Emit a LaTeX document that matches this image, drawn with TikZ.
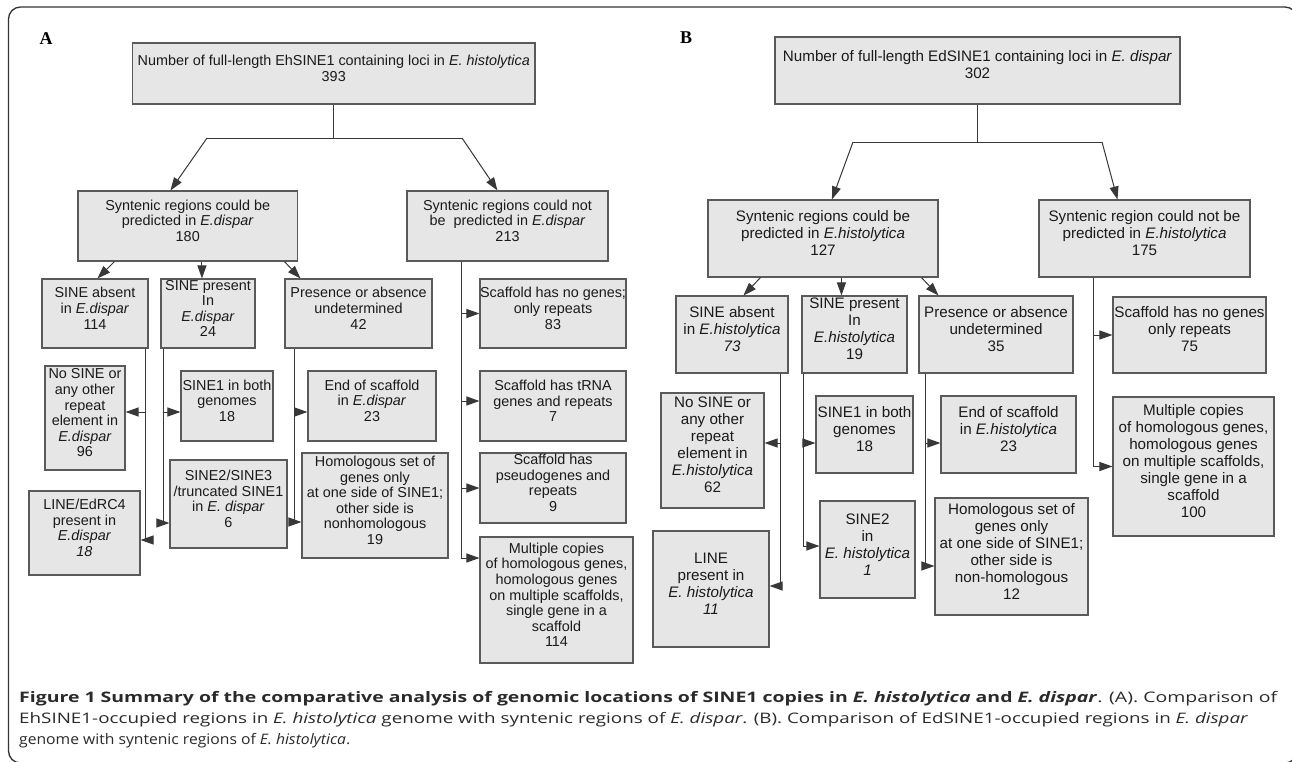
\documentclass[tikz,border=0pt]{standalone}
\usepackage{fontspec}
\usepackage{graphicx}
\usetikzlibrary{arrows.meta,fit}
\setmainfont{Liberation Sans}
\newfontfamily\capf{Open Sans}
\newfontfamily\serf{Liberation Serif}
\definecolor{boxfill}{HTML}{E6E6E6}
\definecolor{boxline}{HTML}{5A5A5A}
\definecolor{conn}{HTML}{383838}
\definecolor{txt}{HTML}{1A1A1A}
\definecolor{captxt}{HTML}{2A2A2A}
\begin{document}
\begin{tikzpicture}[x=1pt,y=-1pt,
  box/.style={draw=boxline,fill=boxfill,line width=1.1pt,inner sep=0pt,align=center,text=txt},
  fa/.style={font=\fontsize{14.4}{15.6}\selectfont},
  fb/.style={font=\fontsize{15.2}{17}\selectfont},
  ln/.style={draw=conn,line width=1pt},
  arr/.style={ln,-{Triangle[length=13pt,width=9pt]}},
  plabel/.style={font=\serf\bfseries\fontsize{18}{18}\selectfont,inner sep=0pt},
  capline/.style={anchor=base west,inner sep=0pt,text=captxt}]
\useasboundingbox (0,0) rectangle (1292,761);
\fill[white] (0,0) rectangle (1292,761);
\draw[line width=1.3pt,draw=black!80,rounded corners=12pt] (8.5,7) rectangle (1297,763);

% ---------------- Panel A ----------------
\node[plabel] (labA) at (46,39) {A};
\node[box,fa,fit={(132.5,43) (535,104)}] (aTop) {Number of full-length EhSINE1 containing loci in \textit{E. histolytica}\\393};
\node[box,fa,fit={(78,191) (297.5,261)}] (a180) {Syntenic regions could be\\ predicted in \textit{E.dispar}\\180};
\node[box,fa,fit={(407,191) (608,261)}] (a213) {Syntenic regions could not\\be \ predicted in \textit{E.dispar}\\213};
\node[box,fa,fit={(42,279) (148,348)}] (aAbs) {SINE absent\\in \textit{E.dispar}\\114};
\node[box,fa,fit={(161,279) (255,348)}] (aPres) {SINE present\\In\\\textit{E.dispar}\\24};
\node[box,fa,fit={(285,279) (432,348)}] (aUnd) {Presence or absence\\undetermined\\42};
\node[box,fa,fit={(480,279) (626,348)}] (aNoG) {Scaffold has no genes;\\only repeats\\83};
\node[box,fa,fit={(45,366) (125,470)}] (aNoS) {No SINE or\\any other\\repeat\\element in\\\textit{E.dispar}\\96};
\node[box,fa,fit={(29,491) (140,575)}] (aLine) {LINE/EdRC4\\present in\\\textit{E.dispar}\\\textit{18}};
\node[box,fa,fit={(181,371) (273,441)}] (aBoth) {SINE1 in both\\genomes\\18};
\node[box,fa,fit={(170,460) (287,548)}] (aS23) {SINE2/SINE3\\/truncated SINE1\\in \textit{E. dispar}\\6};
\node[box,fa,fit={(308,371) (436,441)}] (aEnd) {End of scaffold\\in \textit{E.dispar}\\23};
\node[box,fa,fit={(302,453) (448,558)}] (aHom) {Homologous set of\\genes only\\at one side of SINE1;\\other side is\\nonhomologous\\19};
\node[box,fa,fit={(480,371) (626,441)}] (aTR) {Scaffold has tRNA\\genes and repeats\\7};
\node[box,fa,fit={(480,453) (626,523)}] (aPs) {Scaffold has\\pseudogenes and\\repeats\\9};
\node[box,fa,fit={(480,537) (633,663)}] (aMul) {Multiple copies\\of homologous genes,\\homologous genes\\on multiple scaffolds,\\single gene in a\\scaffold\\114};

\coordinate (aL) at (207,138);
\coordinate (aR) at (462,138);
\draw[ln] (aTop.south) -- (aTop.south |- aL);
\draw[ln] (aL) -- (aR);
\draw[arr] (aL) -- ([xshift=93pt]a180.north west);
\draw[arr] (aR) -- ([xshift=91pt]a213.north west);
\draw[arr] ([xshift=37pt]a180.south west) -- ([xshift=56pt]aAbs.north west);
\draw[arr] ([xshift=124.5pt]a180.south west) -- ([xshift=41.5pt]aPres.north west);
\draw[arr] ([xshift=207pt]a180.south west) -- ([xshift=16pt]aUnd.north west);

\coordinate (aT0) at ([xshift=55pt]a213.south west);
\coordinate (aTRIn) at ([yshift=5pt]aTR.west);
\coordinate (aMulIn) at ([yshift=42pt]aMul.west);
\draw[ln] (aT0) -- (aT0 |- aMulIn);
\draw[arr] (aT0 |- aNoG.west) -- (aNoG.west);
\draw[arr] (aT0 |- aTRIn) -- (aTRIn);
\draw[arr] (aT0 |- aPs.west) -- (aPs.west);
\draw[arr] (aT0 |- aMulIn) -- (aMulIn);

\coordinate (aAT) at ([xshift=-3pt]aAbs.south east);
\coordinate (aNoSIn) at ([yshift=6pt]aNoS.east);
\coordinate (aLineIn) at ([yshift=-7pt]aLine.east);
\draw[ln] (aAT) -- (aAT |- aLineIn);
\draw[arr] (aAT |- aNoSIn) -- (aNoSIn);
\draw[arr] (aAT |- aLineIn) -- (aLineIn);

\coordinate (aPT) at ([xshift=3pt]aPres.south west);
\coordinate (aBothIn) at ([yshift=-6pt]aBoth.west);
\coordinate (aS23In) at ([yshift=-19pt]aS23.west);
\draw[ln] (aPT) -- (aPT |- aS23In);
\draw[arr] (aPT |- aBothIn) -- (aBothIn);
\draw[arr] (aPT |- aS23In) -- (aS23In);

\coordinate (aUT) at ([xshift=10pt]aUnd.south west);
\coordinate (aEndIn) at ([yshift=-6pt]aEnd.west);
\coordinate (aHomIn) at ([yshift=-16.5pt]aHom.west);
\draw[ln] (aUT) -- (aUT |- aHomIn);
\draw[arr] (aUT |- aEndIn) -- (aEndIn);
\draw[arr] (aUT |- aHomIn) -- (aHomIn);

% ---------------- Panel B ----------------
\node[plabel] (labB) at (686,38) {B};
\node[box,fb,fit={(775,37) (1180,104)}] (bTop) {Number of full-length EdSINE1 containing loci in \textit{E. dispar}\\302};
\node[box,fb,fit={(708,200) (938,277)}] (b127) {Syntenic regions could be\\predicted in \textit{E.histolytica}\\127};
\node[box,fb,fit={(1039,200) (1250,277)}] (b175) {Syntenic region could not be\\predicted in \textit{E.histolytica}\\175};
\node[box,fb,fit={(676,296) (788,373)}] (bAbs) {SINE absent\\in \textit{E.histolytica}\\\textit{73}};
\node[box,fb,fit={(802,296) (907,373)}] (bPres) {SINE present\\In\\\textit{E.histolytica}\\19};
\node[box,fb,fit={(919,296) (1073,373)}] (bUnd) {Presence or absence\\undetermined\\35};
\node[box,fb,fit={(1113,297) (1266,373)}] (bNoG) {Scaffold has no genes\\only repeats\\75};
\node[box,fb,fit={(661,393) (764,508)}] (bNoS) {No SINE or\\any other\\repeat\\element in\\\textit{E.histolytica}\\62};
\node[box,fb,fit={(653,531) (769,647)}] (bLine) {LINE\\present in\\\textit{E. histolytica}\\\textit{11}};
\node[box,fb,fit={(816,396) (913,473)}] (bBoth) {SINE1 in both\\genomes\\18};
\node[box,fb,fit={(820,501) (915,598)}] (bS2) {SINE2\\in\\\textit{E. histolytica}\\\textit{1}};
\node[box,fb,fit={(941,396) (1076,473)}] (bEnd) {End of scaffold\\in \textit{E.histolytica}\\23};
\node[box,fb,fit={(935,498) (1088,615)}] (bHom) {Homologous set of\\genes only\\at one side of SINE1;\\other side is\\non-homologous\\12};
\node[box,fb,fit={(1113,397) (1274,536)}] (bMul) {Multiple copies\\of homologous genes,\\homologous genes\\on multiple scaffolds,\\single gene in a\\scaffold\\100};

\coordinate (bL) at (853,142);
\coordinate (bR) at (1102,142);
\draw[ln] (bTop.south) -- (bTop.south |- bL);
\draw[ln] (bL) -- (bR);
\draw[arr] (bL) -- ([xshift=124.5pt]b127.north west);
\draw[arr] (bR) -- ([xshift=79pt]b175.north west);
\draw[arr] ([xshift=53pt]b127.south west) -- ([xshift=68pt]bAbs.north west);
\draw[arr] ([xshift=134pt]b127.south west) -- ([xshift=40pt]bPres.north west);
\draw[arr] ([xshift=214pt]b127.south west) -- ([xshift=20pt]bUnd.north west);

\coordinate (bT0) at ([xshift=55pt]b175.south west);
\draw[ln] (bT0) -- (bT0 |- bMul.west);
\draw[arr] (bT0 |- bNoG.west) -- (bNoG.west);
\draw[arr] (bT0 |- bMul.west) -- (bMul.west);

\coordinate (bAT) at ([xshift=-8pt]bAbs.south east);
\coordinate (bNoSIn) at ([yshift=7.5pt]bNoS.east);
\coordinate (bLineIn) at ([yshift=3pt]bLine.east);
\draw[ln] (bAT) -- (bAT |- bLineIn);
\draw[arr] (bAT |- bNoSIn) -- (bNoSIn);
\draw[arr] (bAT |- bLineIn) -- (bLineIn);

\coordinate (bPT) at ([xshift=2pt]bPres.south west);
\coordinate (bBothIn) at ([yshift=-8.5pt]bBoth.west);
\coordinate (bS2In) at ([yshift=3.5pt]bS2.west);
\draw[ln] (bPT) -- (bPT |- bS2In);
\draw[arr] (bPT |- bBothIn) -- (bBothIn);
\draw[arr] (bPT |- bS2In) -- (bS2In);

\coordinate (bUT) at ([xshift=7pt]bUnd.south west);
\coordinate (bEndIn) at ([yshift=-8.5pt]bEnd.west);
\coordinate (bHomIn) at ([yshift=-9.5pt]bHom.west);
\draw[ln] (bUT) -- (bUT |- bHomIn);
\draw[arr] (bUT |- bEndIn) -- (bEndIn);
\draw[arr] (bUT |- bHomIn) -- (bHomIn);

% ---------------- Caption ----------------
\node[capline] (cap1) at (19,702) {\resizebox{1258pt}{\height}{\capf\fontsize{14.5}{16}\selectfont\textbf{Figure 1 Summary of the comparative analysis of genomic locations of SINE1 copies in \textit{E. histolytica} and \textit{E. dispar}}. (A). Comparison of}};
\node[capline] (cap2) at (19,723) {\resizebox{1229pt}{\height}{\capf\fontsize{14.5}{16}\selectfont EhSINE1-occupied regions in \textit{E. histolytica} genome with syntenic regions of \textit{E. dispar}. (B). Comparison of EdSINE1-occupied regions in \textit{E. dispar}}};
\node[capline] (cap3) at (19,744) {\resizebox{331pt}{\height}{\capf\fontsize{14.5}{16}\selectfont genome with syntenic regions of \textit{E. histolytica}.}};
\end{tikzpicture}
\end{document}
